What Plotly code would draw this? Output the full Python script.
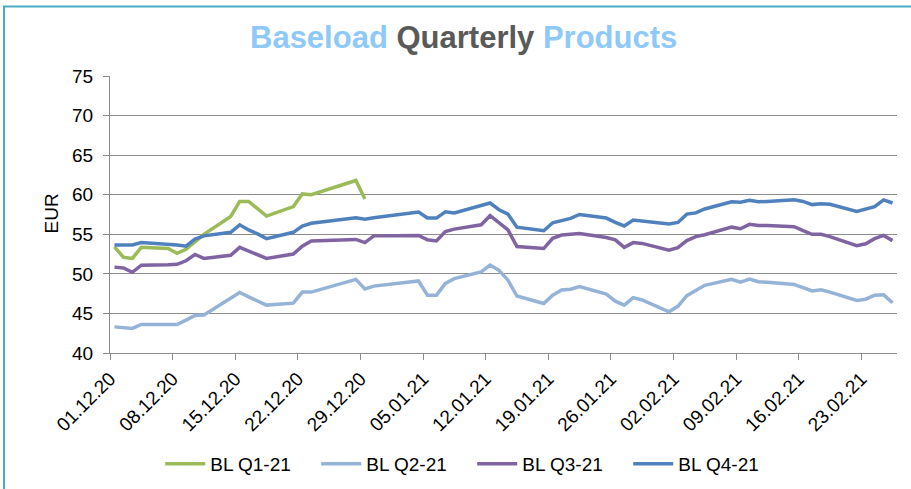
import pandas as pd
import plotly.graph_objects as go

# ---------------- data ----------------
dates = [
    "2020-12-01", "2020-12-02", "2020-12-03", "2020-12-04", "2020-12-07", "2020-12-08", "2020-12-09",
    "2020-12-10", "2020-12-11", "2020-12-14", "2020-12-15", "2020-12-16", "2020-12-17", "2020-12-18",
    "2020-12-21", "2020-12-22", "2020-12-23", "2020-12-28", "2020-12-29", "2020-12-30",
    "2021-01-04", "2021-01-05", "2021-01-06", "2021-01-07", "2021-01-08", "2021-01-11", "2021-01-12",
    "2021-01-13", "2021-01-14", "2021-01-15", "2021-01-18", "2021-01-19", "2021-01-20", "2021-01-21",
    "2021-01-22", "2021-01-25", "2021-01-26", "2021-01-27", "2021-01-28", "2021-01-29",
    "2021-02-01", "2021-02-02", "2021-02-03", "2021-02-04", "2021-02-05", "2021-02-08", "2021-02-09",
    "2021-02-10", "2021-02-11", "2021-02-12", "2021-02-15", "2021-02-16", "2021-02-17", "2021-02-18",
    "2021-02-19", "2021-02-22", "2021-02-23", "2021-02-24", "2021-02-25", "2021-02-26",
]

bl_q1_21 = [
    53.4, 52.1, 51.95, 53.35, 53.2, 52.6, 53.1, 54.1, 55.0, 57.25, 59.15, 59.15, 58.2, 57.3,
    58.5, 60.1, 60.0, 61.8, 59.45, None,
] + [None] * 40

bl_q2_21 = [
    43.3, 43.2, 43.1, 43.6, 43.6, 43.6, 44.15, 44.75, 44.8, 46.85, 47.65, 47.1, 46.55, 46.05,
    46.3, 47.7, 47.7, 49.3, 48.1, 48.45,
    49.1, 47.3, 47.3, 48.8, 49.4, 50.25, 51.1, 50.45, 49.2, 47.2, 46.25, 47.3, 47.95, 48.05,
    48.4, 47.45, 46.55, 46.05, 47.0, 46.7,
    45.2, 45.9, 47.25, 47.85, 48.55, 49.3, 48.95, 49.35, 49.0, 48.95, 48.65, 48.25, 47.85, 48.0,
    47.7, 46.65, 46.8, 47.3, 47.35, 46.35,
]

bl_q3_21 = [
    50.85, 50.75, 50.2, 51.1, 51.15, 51.2, 51.65, 52.45, 51.95, 52.35, 53.35, 52.85, 52.35, 51.95,
    52.5, 53.5, 54.15, 54.35, 53.95, 54.8,
    54.85, 54.3, 54.15, 55.35, 55.65, 56.2, 57.35, 56.4, 55.55, 53.45, 53.2, 54.5, 54.9, 55.0,
    55.1, 54.6, 54.3, 53.35, 53.95, 53.85,
    53.0, 53.3, 54.2, 54.7, 54.95, 55.9, 55.7, 56.25, 56.1, 56.1, 55.95, 55.45, 55.0, 55.0,
    54.7, 53.55, 53.8, 54.45, 54.85, 54.2,
]

bl_q4_21 = [
    53.65, 53.65, 53.65, 53.95, 53.75, 53.65, 53.5, 54.4, 54.8, 55.25, 56.2, 55.55, 55.05, 54.45,
    55.25, 56.05, 56.4, 57.1, 56.9, 57.1,
    57.8, 57.05, 57.05, 57.85, 57.7, 58.6, 58.95, 58.1, 57.55, 55.9, 55.45, 56.45, 56.7, 57.0,
    57.5, 57.05, 56.5, 56.05, 56.8, 56.7,
    56.3, 56.5, 57.55, 57.7, 58.2, 59.1, 59.05, 59.3, 59.1, 59.15, 59.35, 59.15, 58.75, 58.85,
    58.8, 57.9, 58.2, 58.5, 59.35, 58.95,
]

series_names = ["BL Q1-21", "BL Q2-21", "BL Q3-21", "BL Q4-21"]
series_colors = ["#9BBB59", "#95B3D7", "#8064A2", "#4F81BD"]

tick_labels = [
    "01.12.20", "08.12.20", "15.12.20", "22.12.20", "29.12.20", "05.01.21", "12.01.21",
    "19.01.21", "26.01.21", "02.02.21", "09.02.21", "16.02.21", "23.02.21",
]
y_ticks = [40, 45, 50, 55, 60, 65, 70, 75]

# ---------------- figure ----------------
# each trading day is drawn in the middle of its day slot (Excel date axis)
x_vals = pd.to_datetime(dates) + pd.Timedelta(hours=12)
tick_vals = pd.to_datetime(tick_labels, format="%d.%m.%y")

fig = go.Figure()
for name, vals, col in zip(series_names, [bl_q1_21, bl_q2_21, bl_q3_21, bl_q4_21], series_colors):
    fig.add_trace(go.Scatter(
        x=x_vals, y=vals, name=name, mode="lines",
        line=dict(color=col, width=3.5),
        connectgaps=False,
    ))

FONT = "Liberation Sans, Arial, sans-serif"
GRID = "#8C8C8C"

fig.update_layout(
    width=911, height=489,
    margin=dict(l=110, r=14, t=76, b=136, autoexpand=False),
    paper_bgcolor="white", plot_bgcolor="white",
    font=dict(family=FONT, size=19, color="#000000"),
    showlegend=True,
    legend=dict(
        orientation="h", x=0.0638, xanchor="left", y=-0.40, yanchor="middle",
        font=dict(family=FONT, size=19, color="#000000"),
        itemwidth=40,
        entrywidth=101, entrywidthmode="pixels",
        bgcolor="rgba(0,0,0,0)",
    ),
    title=dict(
        text=("<span style='color:#8EC9FA'>Baseload</span> "
              "<span style='color:#595959'>Quarterly</span> "
              "<span style='color:#8EC9FA'>Products</span>"),
        x=250 / 911, xanchor="left", xref="container",
        y=1 - 37.5 / 489, yanchor="middle", yref="container",
        font=dict(family=FONT, size=31, weight="bold"),
    ),
)

fig.update_xaxes(
    type="date",
    range=["2020-12-01", "2021-02-27"],
    tickmode="array", tickvals=tick_vals, ticktext=tick_labels,
    tickangle=-45,
    ticks="outside", ticklen=6, tickcolor=GRID, tickwidth=1.3,
    showgrid=False, zeroline=False,
    showline=True, linecolor=GRID, linewidth=1.3,
    tickfont=dict(family=FONT, size=19, color="#000000"),
    automargin=False,
)
fig.update_yaxes(
    range=[40, 75],
    tickmode="array", tickvals=y_ticks,
    ticks="outside", ticklen=6, tickcolor=GRID, tickwidth=1.3,
    showgrid=True, gridcolor=GRID, gridwidth=1.3,
    zeroline=False,
    showline=True, linecolor=GRID, linewidth=1.3,
    tickfont=dict(family=FONT, size=19, color="#000000"),
    ticklabelstandoff=6,
    automargin=False,
)

# y axis title
fig.add_annotation(
    text="EUR", textangle=-90, xref="paper", yref="paper",
    x=(51 - 110) / 787, y=(352.7 - 213) / 277.2, xanchor="center", yanchor="middle",
    showarrow=False, font=dict(family=FONT, size=19, color="#000000"),
)

# teal chart-area border (top and left edges visible)
fig.add_shape(
    type="path", xref="paper", yref="paper",
    path="M -0.1347,-0.6 L -0.1347,1.2507 L 1.05,1.2507",
    line=dict(color="#4BACC6", width=2),
)

fig.write_html(
    "out.html",
    config={"displayModeBar": False},
    post_script="document.body.style.margin='0px';document.body.style.overflow='hidden';",
)
